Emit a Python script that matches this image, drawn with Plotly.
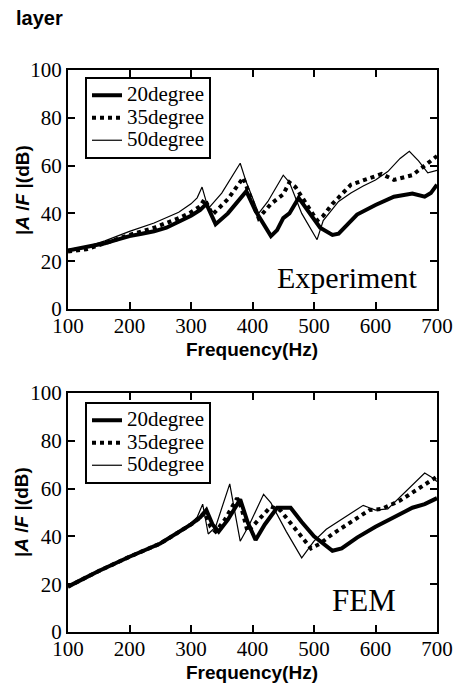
import plotly.graph_objects as go

# ---------------- Data ----------------
series_names = ["20degree", "35degree", "50degree"]

# Experiment
exp_f20 = [100, 120, 140, 160, 180, 200, 220, 240, 260, 280, 300, 315, 325, 340, 360, 390, 405, 430, 440, 450, 460, 475, 490, 510, 530, 540, 555, 570, 600, 630, 660, 680, 690, 700]
exp_v20 = [24.5, 25.5, 26.5, 27.5, 29, 30.5, 31.5, 32.5, 34, 36.5, 39, 41.5, 44, 35.5, 40, 49.3, 41, 30.5, 33, 38, 40, 46.5, 41, 34, 31, 31.5, 35.5, 39.5, 43.5, 47, 48.3, 47, 48.5, 52]

exp_f35 = [100, 130, 160, 200, 240, 280, 300, 315, 322, 335, 360, 385, 395, 410, 430, 450, 460, 470, 490, 505, 515, 530, 560, 590, 610, 630, 660, 700]
exp_v35 = [24, 25, 27.5, 31, 34, 38, 40.5, 43, 46, 39.5, 46, 55, 48, 38, 44, 48, 53, 51, 43, 37, 39, 44, 52, 54.5, 56.5, 54, 56, 64]

exp_f50 = [100, 130, 160, 200, 240, 280, 300, 310, 318, 328, 350, 380, 390, 410, 425, 450, 460, 480, 505, 515, 540, 560, 580, 600, 620, 640, 655, 670, 685, 700]
exp_v50 = [25, 26, 28.5, 32.5, 36, 40.5, 44, 46.5, 51, 42, 48.5, 61, 53, 40, 45, 56, 53, 40, 29, 37, 45, 48.5, 51.5, 54, 57.5, 63, 66, 62, 57, 58]

# FEM
fem_f20 = [100, 150, 200, 250, 300, 315, 325, 335, 345, 360, 380, 392, 405, 420, 440, 462, 480, 500, 530, 545, 570, 600, 630, 660, 680, 700]
fem_v20 = [19, 25.5, 31.5, 37, 45, 48, 51, 45, 42, 47, 55.5, 46, 38.5, 45, 52, 52, 46, 40, 34, 35, 39.5, 44, 48, 52, 53.5, 56]

fem_f35 = [100, 150, 200, 250, 300, 313, 322, 332, 340, 355, 375, 382, 392, 410, 430, 445, 470, 495, 510, 530, 560, 590, 610, 640, 670, 700]
fem_v35 = [19, 25.5, 31.5, 37, 45, 47.5, 50, 44, 42, 47, 56, 52, 42, 47, 52.5, 51, 43, 35, 37, 41, 46, 51, 51.5, 55, 60, 65]

fem_f50 = [100, 150, 200, 250, 300, 310, 319, 328, 340, 363, 370, 380, 395, 418, 430, 455, 480, 500, 520, 550, 580, 590, 600, 620, 650, 680, 690, 700]
fem_v50 = [19, 25.5, 31.5, 37, 45.5, 48, 53.5, 41, 44, 62, 52, 38, 45, 57.6, 54, 42, 31, 38, 43, 48, 53, 52, 51, 51.5, 59, 66.5, 65, 63]

x_ticks = [100, 200, 300, 400, 500, 600, 700]
y_ticks = [0, 20, 40, 60, 80, 100]

# ---------------- Figure ----------------
W, H = 455, 691
fig = go.Figure()

styles = [dict(width=4, dash="solid"), dict(width=4, dash="dot"), dict(width=1.2, dash="solid")]

exp_data = [(exp_f20, exp_v20), (exp_f35, exp_v35), (exp_f50, exp_v50)]
fem_data = [(fem_f20, fem_v20), (fem_f35, fem_v35), (fem_f50, fem_v50)]

def legend_label(name):
    return "<span style='font-size:21px'>" + name + "</span>"

for name, (f, v), st in zip(series_names, exp_data, styles):
    fig.add_trace(go.Scatter(x=f, y=v, mode="lines", name=legend_label(name), legend="legend",
                             line=dict(color="black", **st), xaxis="x", yaxis="y"))
for name, (f, v), st in zip(series_names, fem_data, styles):
    fig.add_trace(go.Scatter(x=f, y=v, mode="lines", name=legend_label(name), legend="legend2",
                             line=dict(color="black", **st), xaxis="x2", yaxis="y2"))

serif = "Liberation Serif"
sans = "Liberation Sans"

def xax(anchor):
    return dict(domain=[68 / W, 437 / W], range=[100, 700], tickvals=x_ticks, anchor=anchor,
                automargin=False, ticklabelstandoff=-3,
                showgrid=False, zeroline=False, showline=True, linecolor="black", linewidth=2,
                mirror="allticks", ticks="inside", ticklen=7, tickwidth=2, tickcolor="black",
                tickfont=dict(family=serif, size=21, color="black"))

def yax(anchor, top, bottom):
    return dict(domain=[1 - bottom / H, 1 - top / H], range=[0, 100], tickvals=y_ticks, anchor=anchor,
                automargin=False,
                showgrid=False, zeroline=False, showline=True, linecolor="black", linewidth=2,
                mirror="allticks", ticks="inside", ticklen=7, tickwidth=2, tickcolor="black",
                tickfont=dict(family=serif, size=21, color="black"))

legend_style = dict(xref="paper", yref="paper", xanchor="left", yanchor="top",
                    bgcolor="white", bordercolor="black", borderwidth=2,
                    font=dict(family=serif, size=15, color="black"), tracegroupgap=0)

fig.update_layout(
    width=W, height=H, margin=dict(l=0, r=0, t=0, b=0),
    paper_bgcolor="white", plot_bgcolor="white",
    xaxis=xax("y"), yaxis=yax("x", 70, 309),
    xaxis2=xax("y2"), yaxis2=yax("x2", 393, 632),
    legend=dict(x=85 / W, y=1 - 77 / H, **legend_style),
    legend2=dict(x=85 / W, y=1 - 402 / H, **legend_style),
)

ann = []
ann.append(dict(text="<b>layer</b>", x=14 / W, y=1 - 18 / H, xanchor="left", yanchor="middle",
                font=dict(family=sans, size=20, color="black")))
for yc in (190, 512):
    ann.append(dict(text="<b>|<i>A</i> /<i>F</i> |(dB)</b>", x=22 / W, y=1 - yc / H, textangle=-90,
                    xanchor="center", yanchor="middle", font=dict(family=sans, size=19, color="black")))
for yc in (349, 672):
    ann.append(dict(text="<b>Frequency(Hz)</b>", x=252 / W, y=1 - yc / H, xanchor="center", yanchor="middle",
                    font=dict(family=sans, size=19, color="black")))
ann.append(dict(text="Experiment", x=420 / W, y=1 - 277 / H, xanchor="right", yanchor="middle",
                font=dict(family=serif, size=30, color="black")))
ann.append(dict(text="FEM", x=398 / W, y=1 - 600 / H, xanchor="right", yanchor="middle",
                font=dict(family=serif, size=31, color="black")))
for a in ann:
    a.update(xref="paper", yref="paper", showarrow=False)
fig.update_layout(annotations=ann)

fig.write_html("out.html", config={"displayModeBar": False},
               post_script="document.body.style.margin='0';document.body.style.overflow='hidden';")
